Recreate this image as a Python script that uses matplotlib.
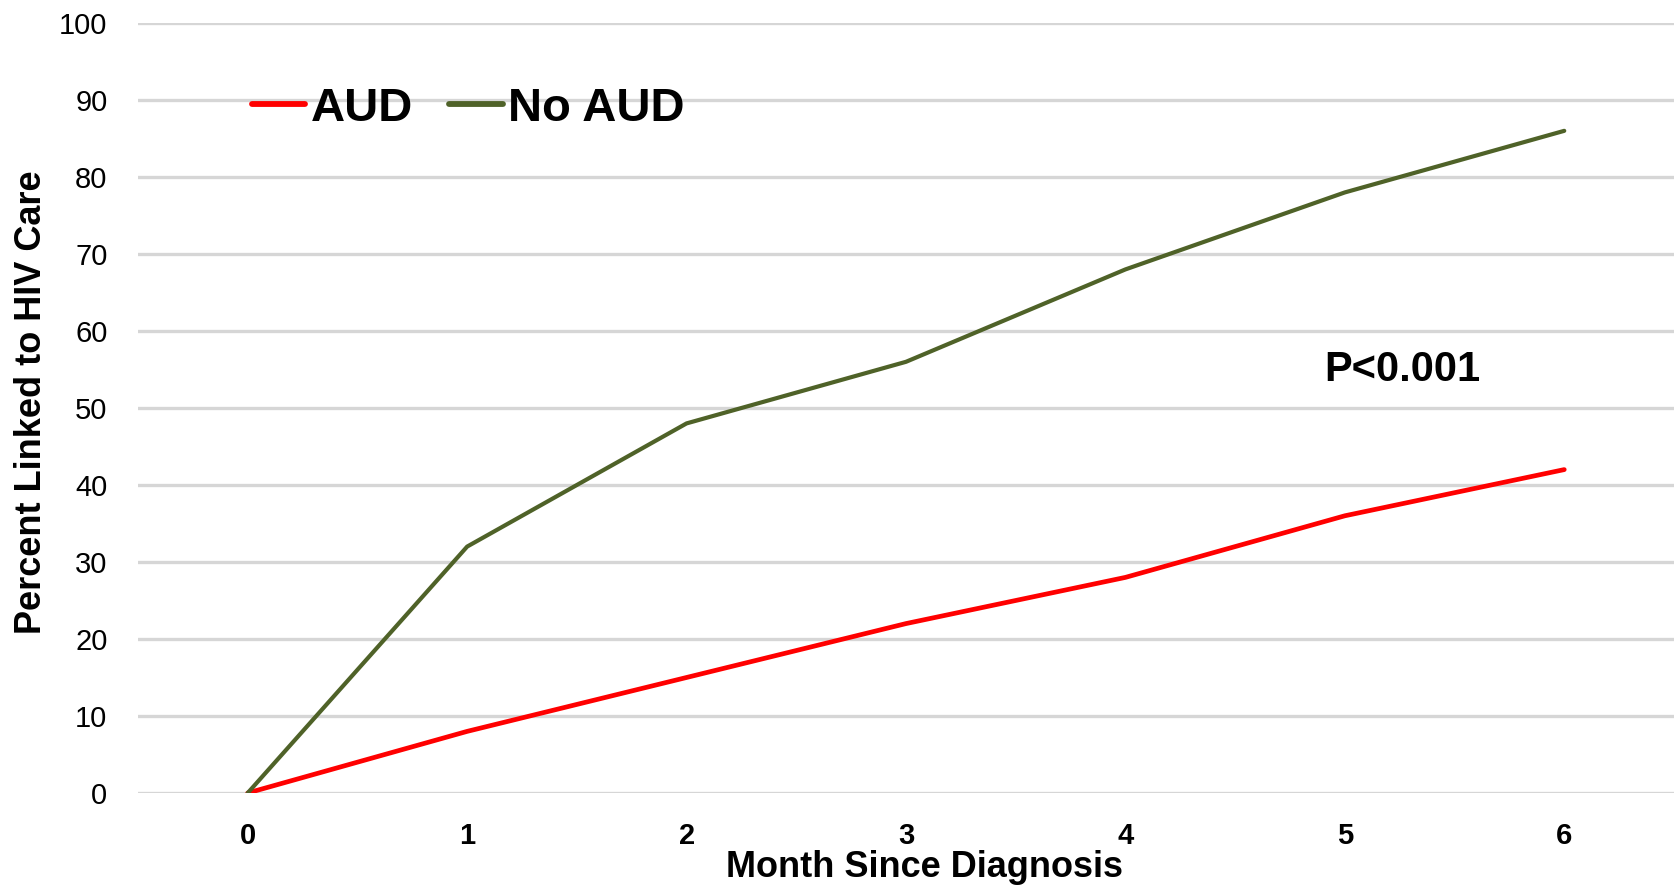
import matplotlib.pyplot as plt

plt.rcParams['font.family'] = ['Liberation Sans', 'DejaVu Sans']

# Dados
meses = [0, 1, 2, 3, 4, 5, 6]
aud = [0, 8, 15, 22, 28, 36, 42]
no_aud = [0, 32, 48, 56, 68, 78, 86]
y_ticks = [0, 10, 20, 30, 40, 50, 60, 70, 80, 90, 100]

fig = plt.figure(figsize=(16.79, 8.86), dpi=100)
ax = fig.add_axes([0.0822, 0.105, 0.9148, 0.869])

ax.plot(meses, aud, color='#ff0000', lw=3.4, label='AUD', solid_capstyle='round')
ax.plot(meses, no_aud, color='#4f6228', lw=3.0, label='No AUD', solid_capstyle='round')

ax.set_xlim(-0.5, 6.5)
ax.set_ylim(0, 100)
ax.set_xticks(meses)
ax.set_yticks(y_ticks)
ax.tick_params(axis='both', length=0)
ax.tick_params(axis='y', labelsize=21, pad=22)
ax.tick_params(axis='x', labelsize=21, pad=21)
for t in ax.get_xticklabels():
    t.set_fontweight('bold')

ax.grid(axis='y', color='#d6d6d6', lw=2.4)
ax.set_axisbelow(True)
for s in ax.spines.values():
    s.set_visible(False)

ax.set_xlabel('Month Since Diagnosis', fontsize=26, fontweight='bold')
ax.xaxis.set_label_coords(0.512, -0.074)
ax.set_ylabel('Percent Linked to HIV Care', fontsize=26, fontweight='bold')
ax.yaxis.set_label_coords(-0.058, 0.508)

ax.text(5.26, 55.0, 'P<0.001', fontsize=30, fontweight='bold', ha='center', va='center')

leg = ax.legend(loc='upper left', bbox_to_anchor=(0.074, 0.917), ncol=2, frameon=False,
                prop={'size': 34, 'weight': 'bold'}, handlelength=1.13, handletextpad=0.12,
                columnspacing=0.77, borderaxespad=0, borderpad=0)
for h in leg.get_lines():
    h.set_linewidth(4.2)

fig.savefig('out.png', dpi=100)
